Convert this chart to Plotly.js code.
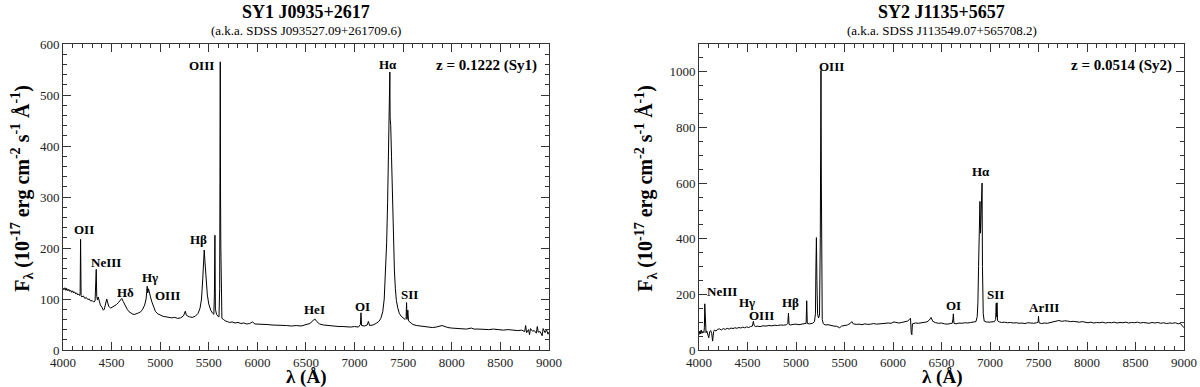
<!DOCTYPE html>
<html>
<head>
<meta charset="utf-8">
<script src="https://cdn.plot.ly/plotly-3.0.1.min.js"></script>
<style>
  html, body { margin: 0; padding: 0; background: #fff; }
  #chart { width: 1200px; height: 387px; }
</style>
</head>
<body>
<div id="chart"></div>
<script>
// Two SDSS optical spectra, Sy1 vs Sy2, flux in 1e-17 erg/cm2/s/A
// [wavelength (A), flux]
const SY1_SPEC = [
  [4000,121],[4010,118],[4020,122],[4030,117],[4040,120],[4050,116],[4060,119],[4070,115],
  [4080,117],[4090,113],[4100,116],[4110,112],[4120,114],[4130,110],[4140,112],[4150,108],
  [4160,110],[4170,107],[4176,110],[4181,217],[4186,106],[4195,104],[4210,106],[4225,101],
  [4240,103],[4255,99],[4270,100],[4285,96],[4300,97],[4315,94],[4330,96],[4337,120],
  [4342,158],[4347,105],[4355,98],[4362,104],[4370,96],[4385,88],[4400,84],[4415,78],
  [4425,80],[4440,90],[4450,100],[4458,94],[4470,86],[4490,82],[4510,84],[4530,86],
  [4550,89],[4570,93],[4590,98],[4605,101],[4620,95],[4640,86],[4660,80],[4680,75],
  [4700,72],[4720,70],[4740,70],[4760,71],[4780,73],[4800,75],[4820,80],[4840,88],
  [4855,100],[4866,125],[4872,112],[4880,120],[4888,110],[4900,104],[4915,94],[4930,84],
  [4950,76],[4975,71],[5000,68],[5030,66],[5060,65],[5090,64],[5120,63],[5150,64],
  [5180,62],[5210,63],[5240,67],[5258,76],[5270,68],[5300,65],[5330,64],[5360,66],
  [5390,72],[5410,82],[5425,100],[5438,140],[5448,180],[5453,196],[5460,175],[5470,140],
  [5485,108],[5500,90],[5520,78],[5540,72],[5552,70],[5558,110],[5563,225],[5568,80],
  [5580,70],[5595,66],[5605,65],[5612,120],[5618,565],[5621,300],[5624,200],[5628,90],
  [5635,62],[5650,60],[5670,57],[5690,56],[5710,54],[5740,55],[5770,53],[5800,54],
  [5830,52],[5860,53],[5890,51],[5920,52],[5950,55],[5975,51],[6000,51],[6050,50],
  [6100,50],[6150,49],[6200,49],[6250,48],[6300,48],[6350,47],[6400,48],[6450,47],
  [6500,49],[6540,52],[6570,57],[6590,61],[6610,56],[6640,51],[6680,49],[6720,48],
  [6760,47],[6800,47],[6840,46],[6880,46],[6920,45],[6960,45],[7000,46],[7040,45],
  [7060,50],[7066,73],[7072,48],[7100,47],[7130,49],[7142,56],[7155,48],[7190,49],
  [7220,52],[7250,56],[7270,62],[7290,75],[7305,100],[7318,150],[7330,210],[7340,290],
  [7350,380],[7356,430],[7360,455],[7363,545],[7366,455],[7372,440],[7380,380],[7390,290],
  [7400,210],[7410,155],[7420,120],[7430,97],[7445,82],[7460,72],[7480,66],[7500,62],
  [7520,60],[7530,62],[7535,93],[7540,60],[7548,78],[7555,57],[7575,53],[7600,50],
  [7640,48],[7680,47],[7720,46],[7760,45],[7800,44],[7840,45],[7870,47],[7900,48],
  [7930,46],[7960,44],[8000,43],[8050,42],[8100,42],[8150,41],[8200,43],[8230,41],
  [8280,41],[8330,40],[8380,40],[8430,41],[8480,40],[8530,39],[8580,40],[8630,39],
  [8680,38],[8720,39],[8750,36],[8760,48],[8770,34],[8790,40],[8800,30],[8810,42],
  [8830,37],[8850,38],[8870,33],[8880,46],[8890,35],[8910,36],[8930,28],[8940,42],
  [8960,34],[8975,40],[8990,31],[9000,35]
];

const SY2_SPEC = [
  [4000,55],[4008,68],[4015,58],[4022,72],[4030,60],[4040,67],[4050,62],[4055,80],
  [4059,166],[4064,75],[4072,62],[4080,68],[4090,54],[4100,44],[4110,66],[4120,70],
  [4130,60],[4140,32],[4150,66],[4160,72],[4175,68],[4190,74],[4210,76],[4230,72],
  [4250,77],[4270,74],[4290,78],[4310,75],[4330,79],[4350,77],[4370,80],[4390,78],
  [4410,81],[4430,79],[4450,82],[4470,80],[4490,83],[4510,81],[4530,84],[4550,86],
  [4560,103],[4568,88],[4585,84],[4600,86],[4630,84],[4660,87],[4690,86],[4720,88],
  [4750,87],[4780,89],[4810,88],[4840,90],[4870,89],[4900,91],[4915,95],[4922,133],
  [4928,92],[4945,90],[4970,92],[5000,93],[5030,91],[5060,93],[5090,94],[5104,96],
  [5110,177],[5116,95],[5140,94],[5170,96],[5190,102],[5200,130],[5205,300],[5210,404],
  [5215,250],[5222,130],[5232,115],[5242,125],[5250,400],[5254,970],[5257,1005],[5261,600],
  [5264,162],[5270,110],[5280,95],[5300,90],[5330,91],[5360,88],[5390,86],[5420,85],
  [5450,80],[5470,86],[5500,88],[5530,90],[5560,96],[5575,102],[5590,94],[5620,92],
  [5650,93],[5680,91],[5710,94],[5740,92],[5770,93],[5800,95],[5830,93],[5860,94],
  [5890,96],[5920,95],[5950,97],[5980,96],[6010,101],[6030,99],[6060,97],[6090,99],
  [6120,101],[6150,104],[6170,110],[6180,114],[6188,60],[6194,55],[6200,94],[6230,97],
  [6260,96],[6290,98],[6320,99],[6350,101],[6375,108],[6392,117],[6410,103],[6440,98],
  [6470,96],[6500,97],[6530,94],[6560,93],[6590,95],[6610,96],[6618,112],[6622,130],
  [6628,96],[6650,94],[6680,97],[6710,96],[6740,98],[6770,97],[6800,99],[6830,100],
  [6855,102],[6868,120],[6875,170],[6882,300],[6890,460],[6896,534],[6902,420],[6908,480],
  [6913,580],[6918,600],[6922,300],[6926,233],[6930,130],[6940,104],[6960,101],[6990,100],
  [7020,100],[7045,102],[7058,110],[7064,168],[7068,120],[7072,170],[7078,105],[7095,101],
  [7120,99],[7150,100],[7180,98],[7210,99],[7240,97],[7270,98],[7300,96],[7330,97],
  [7360,95],[7390,98],[7420,97],[7450,96],[7480,98],[7496,100],[7500,121],[7505,98],
  [7530,95],[7560,97],[7590,96],[7620,99],[7650,101],[7680,104],[7710,106],[7740,103],
  [7770,105],[7800,104],[7830,102],[7860,103],[7890,101],[7920,100],[7950,102],[7980,99],
  [8010,98],[8040,100],[8070,97],[8100,99],[8130,98],[8160,100],[8190,97],[8220,99],
  [8250,98],[8280,100],[8310,97],[8340,99],[8370,98],[8400,100],[8430,97],[8460,99],
  [8490,98],[8520,100],[8550,97],[8580,99],[8610,98],[8640,96],[8670,99],[8700,97],
  [8730,99],[8760,96],[8790,98],[8820,95],[8850,97],[8880,96],[8910,98],[8940,94],
  [8960,96],[8980,88],[9000,80]
];

// emission-line labels: text, wavelength, flux
const SY1_LABELS = [
  ['OII', 4220, 236], ['NeIII', 4440, 171], ['Hδ', 4648, 112], ['Hγ', 4890, 143],
  ['OIII', 5080, 106], ['Hβ', 5398, 216], ['OIII', 5430, 557], ['Hα', 7346, 560],
  ['HeI', 6590, 80], ['OI', 7082, 86], ['SII', 7570, 108]
];
const SY2_LABELS = [
  ['Hγ', 4490, 171], ['OIII', 4640, 123], ['Hβ', 4942, 169], ['OIII', 5365, 1020],
  ['Hα', 6912, 640], ['OI', 6628, 159], ['SII', 7056, 200], ['ArIII', 7556, 154]
];

const TITLES = ['SY1 J0935+2617', 'SY2 J1135+5657'];
const SUBTITLES = ['(a.k.a. SDSS J093527.09+261709.6)', '(a.k.a. SDSS J113549.07+565708.2)'];
const REDSHIFTS = ['z = 0.1222 (Sy1)', 'z = 0.0514 (Sy2)'];

const SERIF = 'Liberation Serif, Times New Roman, serif';
const YTITLE = '<b>F<sub>λ</sub> (10<sup>-17</sup> erg cm<sup>-2</sup> s<sup>-1</sup> Å<sup>-1</sup>)</b>';

function trace(spec, xa, ya) {
  return {
    x: spec.map(p => p[0]), y: spec.map(p => p[1]), xaxis: xa, yaxis: ya,
    type: 'scatter', mode: 'lines', line: { color: '#000', width: 1 }, hoverinfo: 'x+y',
  };
}

function xAxis(domain, anchor) {
  return {
    domain, anchor, range: [4000, 9000], dtick: 500, tick0: 4000,
    ticks: 'inside', ticklen: 8, tickcolor: '#333', showline: true, linecolor: '#333',
    mirror: 'ticks', showgrid: false, zeroline: false,
    minor: { dtick: 100, ticks: 'inside', ticklen: 4, tickcolor: '#333' },
    tickfont: { family: SERIF, size: 13, color: '#222' },
  };
}

function yAxis(range, dtick, minor, anchor) {
  return {
    anchor, range, dtick, tick0: 0,
    ticks: 'inside', ticklen: 8, tickcolor: '#333', showline: true, linecolor: '#333',
    mirror: 'ticks', showgrid: false, zeroline: false,
    minor: { dtick: minor, ticks: 'inside', ticklen: 4, tickcolor: '#333' },
    tickfont: { family: SERIF, size: 13, color: '#222' },
  };
}

const annotations = [];
const centers = [0.2168, 0.7837];
const yTitleX = [-0.0366, 0.520];
TITLES.forEach((t, i) => {
  annotations.push({ xref: 'paper', yref: 'paper', x: centers[i], y: 1.105, yanchor: 'middle', xanchor: 'center',
    text: '<b>' + t + '</b>', showarrow: false, font: { family: SERIF, size: 18, color: '#000' } });
  annotations.push({ xref: 'paper', yref: 'paper', x: centers[i], y: 1.044, yanchor: 'middle', xanchor: 'center',
    text: SUBTITLES[i], showarrow: false, font: { family: SERIF, size: 13, color: '#000' } });
  // axis titles
  annotations.push({ xref: 'paper', yref: 'paper', x: centers[i], y: -0.088, yanchor: 'middle', xanchor: 'center',
    text: '<b>λ (Å)</b>', showarrow: false, font: { family: SERIF, size: 19, color: '#000' } });
  annotations.push({ xref: 'paper', yref: 'paper', x: yTitleX[i], y: 0.53, yanchor: 'middle', xanchor: 'center',
    textangle: -90, text: YTITLE, showarrow: false, font: { family: SERIF, size: 20, color: '#000' } });
});
annotations.push({ xref: 'x', yref: 'y', x: 8895, y: 557, xanchor: 'right', yanchor: 'middle',
  text: '<b>' + REDSHIFTS[0] + '</b>', showarrow: false, font: { family: SERIF, size: 15, color: '#000' } });
annotations.push({ xref: 'x2', yref: 'y2', x: 8897, y: 1024, xanchor: 'right', yanchor: 'middle',
  text: '<b>' + REDSHIFTS[1] + '</b>', showarrow: false, font: { family: SERIF, size: 15, color: '#000' } });

const labelFont = { family: SERIF, size: 13, color: '#000' };
SY1_LABELS.forEach(([t, x, y]) => annotations.push({ xref: 'x', yref: 'y', x, y, xanchor: 'center', yanchor: 'middle',
  text: '<b>' + t + '</b>', showarrow: false, font: labelFont }));
SY2_LABELS.forEach(([t, x, y]) => annotations.push({ xref: 'x2', yref: 'y2', x, y, xanchor: 'center', yanchor: 'middle',
  text: '<b>' + t + '</b>', showarrow: false, font: labelFont }));
annotations.push({ xref: 'x2', yref: 'y2', x: 4062, y: 212, xanchor: 'left', yanchor: 'middle', text: '<b>NeIII</b>',
  showarrow: false, font: labelFont });

const layout = {
  width: 1200, height: 387,
  margin: { l: 63, r: 16, t: 44, b: 37 },
  paper_bgcolor: '#fff', plot_bgcolor: '#fff', showlegend: false,
  font: { family: SERIF, color: '#000' },
  xaxis: xAxis([0, 0.4335], 'y'),
  xaxis2: xAxis([0.5674, 1], 'y2'),
  yaxis: yAxis([0, 600], 100, 20, 'x'),
  yaxis2: yAxis([0, 1100], 200, 50, 'x2'),
  annotations,
};

Plotly.newPlot('chart', [trace(SY1_SPEC, 'x', 'y'), trace(SY2_SPEC, 'x2', 'y2')], layout,
  { displayModeBar: false, staticPlot: true });
</script>
</body>
</html>
